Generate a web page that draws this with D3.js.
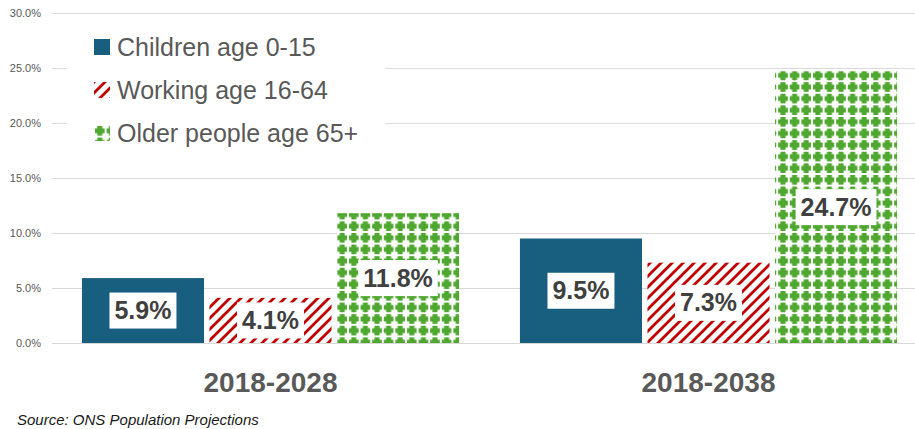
<!DOCTYPE html>
<html>
<head>
<meta charset="utf-8">
<script src="https://cdn.jsdelivr.net/npm/d3@7"></script>
<style>
  body { margin: 0; background: #fff; }
  svg { display: block; font-family: "Liberation Sans", Arial, sans-serif; }
</style>
</head>
<body>
<svg id="chart" width="915" height="429"></svg>
<script>
// dados
const periods = ["2018-2028", "2018-2038"];
const groups = ["Children age 0-15", "Working age 16-64", "Older people age 65+"];
const children = [5.9, 9.5];
const working = [4.1, 7.3];
const older = [11.8, 24.7];
const yTicks = [0, 5, 10, 15, 20, 25, 30];

const seriesValues = [children, working, older];
const rows = [];
periods.forEach((p, i) => {
  groups.forEach((g, j) => rows.push({ period: p, group: g, value: seriesValues[j][i] }));
});

const svg = d3.select("#chart");
const defs = svg.append("defs");

// padrão listrado vermelho
const stripes = defs.append("pattern")
  .attr("id", "stripes")
  .attr("patternUnits", "userSpaceOnUse")
  .attr("width", 11).attr("height", 11);
stripes.append("rect").attr("width", 11).attr("height", 11).attr("fill", "#fff");
stripes.append("path")
  .attr("d", "M-2,2 l4,-4 M0,11 l11,-11 M9,13 l4,-4")
  .attr("stroke", "#c00000").attr("stroke-width", 2.8);

// padrão de pontos verdes
const dots = defs.append("pattern")
  .attr("id", "dots")
  .attr("patternUnits", "userSpaceOnUse")
  .attr("width", 11.6).attr("height", 11.6);
dots.append("rect").attr("width", 11.6).attr("height", 11.6).attr("fill", "#fff");
dots.append("path")
  .attr("d", "M3.3,1 h5 v2.3 h2.3 v5 h-2.3 v2.3 h-5 v-2.3 h-2.3 v-5 h2.3 z")
  .attr("fill", "#4ea72e");

const fills = {
  "Children age 0-15": "#175e7f",
  "Working age 16-64": "url(#stripes)",
  "Older people age 65+": "url(#dots)"
};

const y = d3.scaleLinear().domain([0, 30]).range([343, 13]);
const x0 = d3.scaleBand().domain(periods).range([51.5, 927.5])
  .paddingInner(0.139).paddingOuter(0.0695);
const x1 = d3.scaleBand().domain(groups).range([0, x0.bandwidth()]).paddingInner(0.043);

// linhas de grade
svg.append("g")
  .selectAll("line")
  .data(yTicks)
  .enter()
  .append("line")
  .attr("x1", 52).attr("x2", 915)
  .attr("y1", d => y(d) + 0.5).attr("y2", d => y(d) + 0.5)
  .attr("stroke", "#d9d9d9").attr("stroke-width", 1);

// rótulos do eixo y
svg.append("g")
  .selectAll("text")
  .data(yTicks)
  .enter()
  .append("text")
  .attr("x", 41)
  .attr("y", d => y(d) + 4)
  .attr("text-anchor", "end")
  .attr("font-size", "11px")
  .attr("fill", "#595959")
  .text(d => d.toFixed(1) + "%");

// barras
const bars = svg.append("g")
  .selectAll("g.bar")
  .data(rows)
  .enter()
  .append("g")
  .attr("class", "bar");

bars.append("rect")
  .attr("x", d => x0(d.period) + x1(d.group))
  .attr("y", d => y(d.value))
  .attr("width", x1.bandwidth())
  .attr("height", d => y(0) - y(d.value))
  .attr("fill", d => fills[d.group]);

// rótulos de dados com caixa branca
bars.each(function(d) {
  const g = d3.select(this);
  const cx = x0(d.period) + x1(d.group) + x1.bandwidth() / 2;
  const cy = (y(d.value) + y(0)) / 2;
  const t = g.append("text")
    .attr("x", cx)
    .attr("y", cy + 8.5)
    .attr("text-anchor", "middle")
    .attr("font-size", "25px")
    .attr("font-weight", "bold")
    .attr("fill", "#404040")
    .text(d.value.toFixed(1) + "%");
  const w = t.node().getComputedTextLength();
  g.insert("rect", "text")
    .attr("x", cx - w / 2 - 5)
    .attr("y", cy - 18)
    .attr("width", w + 10)
    .attr("height", 36)
    .attr("fill", "#fff");
});

// rótulos das categorias
svg.append("g")
  .selectAll("text")
  .data(periods)
  .enter()
  .append("text")
  .attr("x", d => x0(d) + x0.bandwidth() / 2)
  .attr("y", 392)
  .attr("text-anchor", "middle")
  .attr("font-size", "28px")
  .attr("font-weight", "bold")
  .attr("fill", "#595959")
  .text(d => d);

// legenda
const legend = svg.append("g");
legend.append("rect")
  .attr("x", 67).attr("y", 20)
  .attr("width", 318).attr("height", 135)
  .attr("fill", "#fff");

const items = legend.selectAll("g")
  .data(groups)
  .enter()
  .append("g")
  .attr("transform", (d, i) => `translate(94, ${39 + i * 43})`);

items.append("rect")
  .attr("width", 16).attr("height", 16)
  .attr("fill", d => fills[d]);

items.append("text")
  .attr("x", 23)
  .attr("y", 17)
  .attr("font-size", "25px")
  .attr("fill", "#595959")
  .text(d => d);

// fonte
svg.append("text")
  .attr("x", 17)
  .attr("y", 425)
  .attr("font-size", "15px")
  .attr("font-style", "italic")
  .attr("fill", "#1a1a1a")
  .text("Source: ONS Population Projections");
</script>
</body>
</html>
